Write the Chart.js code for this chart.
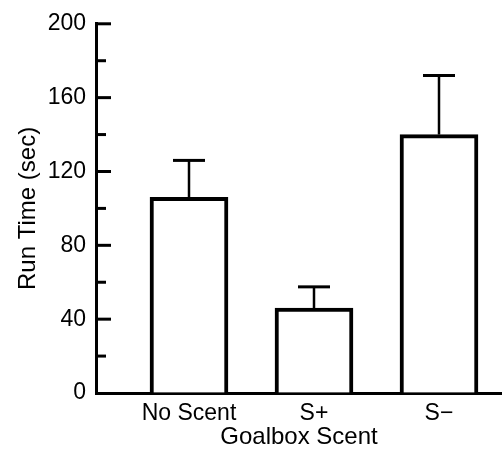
<!doctype html>
<html lang="en">
    <head>
        <meta charset="utf-8">
        <title>Run Time by Goalbox Scent</title>
        <script src="https://cdn.jsdelivr.net/npm/chart.js@4"></script>
        <style>
            html, body { margin: 0; padding: 0; background: #fff; }
        </style>
    </head>

    <body>
        <canvas id="myChart" width="502" height="458"></canvas>
        <script type="text/javascript">
            // values
            var categories = ["No Scent", "S+", "S\u2212"];
            var runTimes = [106, 46, 140];
            var runErrors = [20, 11.5, 32];
            var yTickLabels = [0, 40, 80, 120, 160, 200];

            // error bars + inward tick marks, both placed through the chart scales
            var figureMarks = {
                id: "figureMarks",
                afterDatasetsDraw: function(chart) {
                    var ctx = chart.ctx;
                    var y = chart.scales.y;
                    var meta = chart.getDatasetMeta(0);
                    ctx.save();
                    ctx.strokeStyle = "#000";
                    for (var i = 0; i < runTimes.length; i++) {
                        var cx = meta.data[i].x;
                        var yBar = y.getPixelForValue(runTimes[i]);
                        var yTop = y.getPixelForValue(runTimes[i] + runErrors[i]);
                        ctx.lineWidth = 2.5;
                        ctx.beginPath();
                        ctx.moveTo(cx, yBar);
                        ctx.lineTo(cx, yTop);
                        ctx.stroke();
                        ctx.lineWidth = 3;
                        ctx.beginPath();
                        ctx.moveTo(cx - 16, yTop);
                        ctx.lineTo(cx + 16, yTop);
                        ctx.stroke();
                    }
                    var left = chart.chartArea.left;
                    ctx.lineWidth = 3;
                    y.ticks.forEach(function(t) {
                        if (t.value === 0) return;
                        var py = y.getPixelForValue(t.value);
                        var len = yTickLabels.indexOf(t.value) >= 0 ? 15 : 10;
                        ctx.beginPath();
                        ctx.moveTo(left, py);
                        ctx.lineTo(left + len, py);
                        ctx.stroke();
                    });
                    ctx.restore();
                }
            };

            var fontFamily = "'Liberation Sans', Arial, sans-serif";
            var ctx = document.getElementById("myChart").getContext("2d");
            var myNewChart = new Chart(ctx, {
                type: "bar",
                data: {
                    datasets: [{
                        data: runTimes.map(function(v, i) { return { x: i, y: v }; }),
                        backgroundColor: "#fff",
                        borderColor: "#000",
                        borderWidth: 4,
                        borderSkipped: "bottom",
                        barThickness: 78
                    }]
                },
                options: {
                    responsive: false,
                    animation: false,
                    layout: { padding: { top: 20, right: 0, left: 0, bottom: 0 } },
                    plugins: { legend: { display: false }, tooltip: { enabled: false } },
                    scales: {
                        x: {
                            type: "linear",
                            min: -0.744,
                            max: 2.504,
                            offset: false,
                            afterBuildTicks: function(scale) {
                                scale.ticks = categories.map(function(c, i) { return { value: i }; });
                            },
                            afterFit: function(scale) { scale.height = 65; },
                            grid: { display: true, drawOnChartArea: false, drawTicks: false },
                            border: { display: true, color: "#000", width: 3 },
                            ticks: {
                                color: "#000",
                                padding: 7,
                                autoSkip: false,
                                maxRotation: 0,
                                font: { family: fontFamily, size: 23 },
                                callback: function(v) { return categories[v]; }
                            },
                            title: {
                                display: true,
                                text: "Goalbox Scent",
                                color: "#000",
                                padding: { top: 0, bottom: 6 },
                                font: { family: fontFamily, size: 24 }
                            }
                        },
                        y: {
                            min: 0,
                            max: 200,
                            afterFit: function(scale) { scale.width = 96; },
                            grid: { display: true, drawOnChartArea: false, drawTicks: false },
                            border: { display: true, color: "#000", width: 3 },
                            ticks: {
                                stepSize: 20,
                                color: "#000",
                                padding: 10,
                                font: { family: fontFamily, size: 23 },
                                callback: function(v) { return yTickLabels.indexOf(v) >= 0 ? v : ""; }
                            },
                            title: {
                                display: true,
                                text: "Run Time (sec)",
                                color: "#000",
                                padding: { top: 14, bottom: 0 },
                                font: { family: fontFamily, size: 24 }
                            }
                        }
                    }
                },
                plugins: [figureMarks]
            });
        </script>
    </body>
</html>
